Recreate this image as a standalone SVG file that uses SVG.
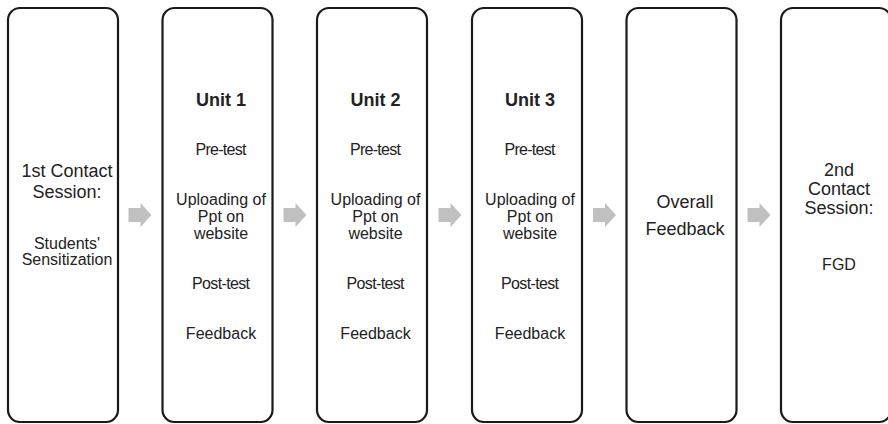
<svg xmlns="http://www.w3.org/2000/svg" width="888" height="424" viewBox="0 0 888 424">
<defs>
<style>
.box{fill:#fff;stroke:#1a1a1a;stroke-width:2.2}
.t{font-family:"Liberation Sans",Arial,sans-serif;font-size:16px;fill:#222;text-anchor:middle}
.l{font-size:18px}
.b{font-weight:bold;font-size:18px}
.arr{fill:#c0c0c0}
</style>
<path id="ar" d="M0,-7 H12 V-12 L23,0 L12,12 V7 H0 Z"/>
</defs>
<rect width="888" height="424" fill="#fff"/>
<g id="connectors" class="arr">
<use href="#ar" x="128.5" y="215"/>
<use href="#ar" x="283.5" y="215"/>
<use href="#ar" x="438.5" y="215"/>
<use href="#ar" x="593" y="215"/>
<use href="#ar" x="747.5" y="215"/>
</g>
<g id="contact1">
<rect class="box" x="8" y="8" width="110" height="414" rx="12"/>
<text class="t l" x="67" y="177">1st Contact</text>
<text class="t l" x="67" y="198">Session:</text>
<text class="t" x="67" y="249">Students'</text>
<text class="t" x="67" y="265">Sensitization</text>
</g>
<g id="unit1">
<rect class="box" x="162.5" y="8" width="110" height="414" rx="12"/>
<text class="t b" x="221" y="106">Unit 1</text>
<text class="t" x="221" y="155" textLength="51" lengthAdjust="spacing">Pre-test</text>
<text class="t" x="221" y="205">Uploading of</text>
<text class="t" x="221" y="222">Ppt on</text>
<text class="t" x="221" y="239">website</text>
<text class="t" x="221" y="289" textLength="58" lengthAdjust="spacing">Post-test</text>
<text class="t" x="221" y="339">Feedback</text>
</g>
<g id="unit2">
<rect class="box" x="317" y="8" width="110" height="414" rx="12"/>
<text class="t b" x="375.5" y="106">Unit 2</text>
<text class="t" x="375.5" y="155" textLength="51" lengthAdjust="spacing">Pre-test</text>
<text class="t" x="375.5" y="205">Uploading of</text>
<text class="t" x="375.5" y="222">Ppt on</text>
<text class="t" x="375.5" y="239">website</text>
<text class="t" x="375.5" y="289" textLength="58" lengthAdjust="spacing">Post-test</text>
<text class="t" x="375.5" y="339">Feedback</text>
</g>
<g id="unit3">
<rect class="box" x="472" y="8" width="110" height="414" rx="12"/>
<text class="t b" x="530" y="106">Unit 3</text>
<text class="t" x="530" y="155" textLength="51" lengthAdjust="spacing">Pre-test</text>
<text class="t" x="530" y="205">Uploading of</text>
<text class="t" x="530" y="222">Ppt on</text>
<text class="t" x="530" y="239">website</text>
<text class="t" x="530" y="289" textLength="58" lengthAdjust="spacing">Post-test</text>
<text class="t" x="530" y="339">Feedback</text>
</g>
<g id="overall">
<rect class="box" x="626.5" y="8" width="110" height="414" rx="12"/>
<text class="t l" x="685" y="208">Overall</text>
<text class="t l" x="685" y="235">Feedback</text>
</g>
<g id="contact2">
<rect class="box" x="781" y="8" width="110" height="414" rx="12"/>
<text class="t l" x="839" y="176">2nd</text>
<text class="t l" x="839" y="195">Contact</text>
<text class="t l" x="839" y="214">Session:</text>
<text class="t" x="839" y="270">FGD</text>
</g>
</svg>
